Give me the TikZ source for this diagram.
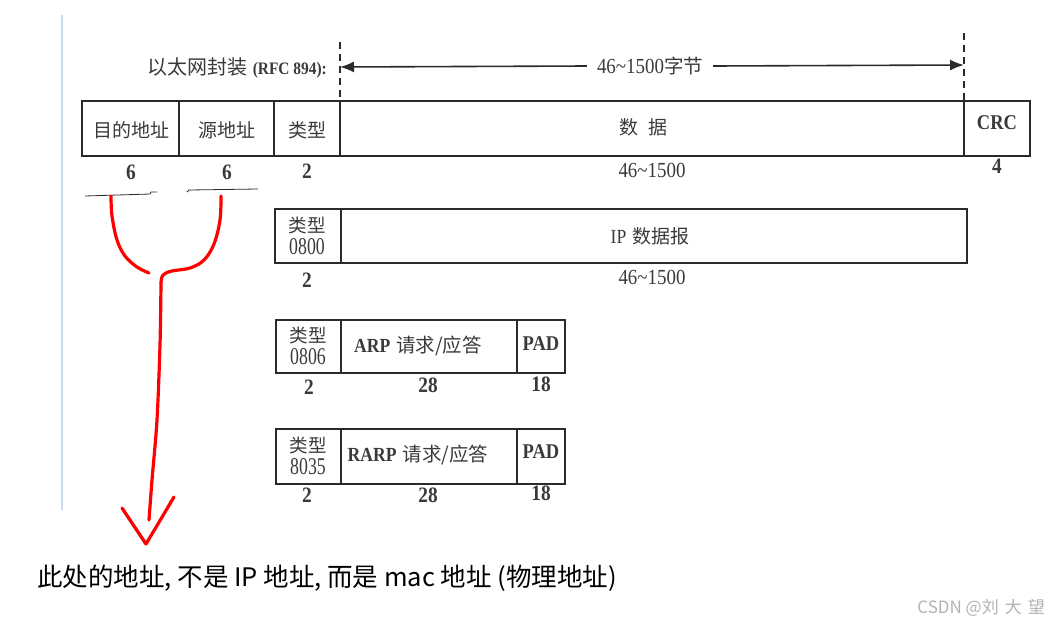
\documentclass[tikz,border=0pt]{standalone}
\usepackage{fontspec}
\setmainfont{Liberation Serif}
\newfontfamily\ns{Liberation Serif}[FakeStretch=0.88]
\newfontfamily\nss{Liberation Serif}[FakeStretch=0.74]
\newfontfamily\cjk{Noto Sans CJK SC}
\usetikzlibrary{arrows.meta}
\definecolor{ink}{HTML}{2B2B2B}
\definecolor{txt}{HTML}{3A3A3A}
\definecolor{scanblue}{HTML}{C8D7F7}
\tikzset{
  box/.style={draw=ink, line width=1.5pt},
  dashline/.style={draw=ink, line width=1.6pt, dash pattern=on 7pt off 5pt},
  t/.style={inner sep=0pt, text=txt},
  cj/.style={t, font=\cjk\fontsize{19}{19}\selectfont},
  num/.style={t, font=\ns\bfseries\fontsize{22}{22}\selectfont},
  rnum/.style={t, font=\ns\fontsize{21.5}{21.5}\selectfont},
  stack/.style={t, align=center, font=\fontsize{18}{21}\selectfont},
  redpen/.style={draw=red, line width=3.2pt, line cap=round, line join=round},
  pen/.style={draw=ink, line width=0.8pt},
  dimarrow/.style={draw=ink, line width=1.6pt, -{Latex[length=14pt,width=11pt]}},
}
\newcommand{\stk}[1]{{\cjk\fontsize{18.5}{21}\selectfont 类型}\\[1pt]{\nss\fontsize{24}{21}\selectfont #1}}
\begin{document}
\begin{tikzpicture}[x=1pt,y=-1pt]
\useasboundingbox (0,0) rectangle (1048,627);
% scan margin line
\draw[draw=scanblue, line width=2.5pt] (62,15) -- (62,510);

% title and dimension arrow
\node[t, anchor=east] (title) at (327,68) {{\cjk\fontsize{20}{20}\selectfont 以太网封装}\hspace{5pt}{\ns\bfseries\fontsize{17.5}{17.5}\selectfont (RFC 894):}};
\coordinate (dl0) at (340,42);
\coordinate (dl1) at (340,101);
\coordinate (dr0) at (964,33);
\coordinate (dr1) at (964,101);
\draw[dashline] (dl0) -- (dl1);
\draw[dashline] (dr0) -- (dr1);
\coordinate (al) at (340,67);
\coordinate (ar) at (964,65);
\node[t, inner xsep=10pt] (dimlab) at (650,66) {{\ns\fontsize{21.5}{21.5}\selectfont 46\textasciitilde 1500}{\cjk\fontsize{19.5}{19.5}\selectfont 字节}};
\draw[dimarrow] (dimlab.west) -- (al);
\draw[dimarrow] (dimlab.east) -- (ar);

% main frame row
\draw[box] (82,101) rectangle (1030,156);
\draw[box] (179,101) -- (179,156);
\draw[box] (274,101) -- (274,156);
\draw[box] (340,101) -- (340,156);
\draw[box] (964,101) -- (964,156);
\node[cj] (dst) at (131,130) {目的地址};
\node[cj] (src) at (227,130) {源地址};
\node[cj] (typ) at (307,130) {类型};
\node[cj] (data) at (643,127) {数\hspace{10pt}据};
\node[t, font=\ns\bfseries\fontsize{21}{21}\selectfont] (crc) at (997,123) {CRC};
\node[num] (n6a) at (131,172) {6};
\node[num] (n6b) at (227,172) {6};
\node[num] (n2a) at (307,171) {2};
\node[rnum] (n46a) at (652,170) {46\textasciitilde 1500};
\node[num] (n4) at (997,166) {4};

% IP row
\draw[box] (275,209) rectangle (967,263);
\draw[box] (341,209) -- (341,263);
\node[stack] (ipt) at (307,236) {\stk{0800}};
\node[t] (ipd) at (650,236) {{\ns\fontsize{20}{20}\selectfont IP}\hspace{6pt}{\cjk\fontsize{19}{19}\selectfont 数据报}};
\node[num] (n2b) at (307,280) {2};
\node[rnum] (n46b) at (652,277) {46\textasciitilde 1500};

% ARP row
\draw[box] (276,320) rectangle (565,373);
\draw[box] (341,320) -- (341,373);
\draw[box] (517,320) -- (517,373);
\node[stack] (arpt) at (308,346) {\stk{0806}};
\node[t] (arpd) at (418,346) {{\ns\bfseries\fontsize{20}{20}\selectfont ARP}\hspace{6pt}{\cjk\fontsize{19.5}{20}\selectfont 请求/应答}};
\node[t, font=\ns\bfseries\fontsize{21}{21}\selectfont] (pad1) at (541,344) {PAD};
\node[num] (n2c) at (309,387) {2};
\node[num] (n28a) at (428,385) {28};
\node[num] (n18a) at (541,384) {18};

% RARP row
\draw[box] (276,429) rectangle (565,484);
\draw[box] (341,429) -- (341,484);
\draw[box] (517,429) -- (517,484);
\node[stack] (rarpt) at (308,456) {\stk{8035}};
\node[t] (rarpd) at (418,455) {{\ns\bfseries\fontsize{20}{20}\selectfont RARP}\hspace{6pt}{\cjk\fontsize{19.5}{20}\selectfont 请求/应答}};
\node[t, font=\ns\bfseries\fontsize{21}{21}\selectfont] (pad2) at (541,452) {PAD};
\node[num] (n2d) at (307,495) {2};
\node[num] (n28b) at (428,495) {28};
\node[num] (n18b) at (541,493) {18};

% hand-drawn underlines
\draw[pen] (85,196) -- (150,194) -- (151,192) -- (157,192);
\draw[pen] (187,192) -- (189,190) -- (258,189);

% red hand-drawn annotation
\draw[redpen] plot[smooth, tension=0.6] coordinates {(111,196) (112,216) (117,240) (125,256) (137,267) (149,273)};
\draw[redpen] plot[smooth, tension=0.6] coordinates {(221,196) (220,220) (214,244) (204,260) (190,268) (172,271) (163,275) (161,283)};
\draw[redpen] plot[smooth, tension=0.5] coordinates {(161,283) (160,345) (157,420) (152,480) (149,520)};
\draw[redpen] (122,508) -- (146,544) -- (174,497);

% annotation text
\node[inner sep=0pt, anchor=west, font=\cjk\fontsize{25.5}{25.5}\selectfont] (note) at (37,578) {此处的地址, 不是 IP 地址, 而是 mac 地址 (物理地址)};
\node[inner sep=0pt, anchor=east, text=black!30, font=\cjk\fontsize{17}{17}\selectfont] (wm) at (1045,608) {CSDN @刘\hspace{6pt}大\hspace{6pt}望};
\end{tikzpicture}
\end{document}
